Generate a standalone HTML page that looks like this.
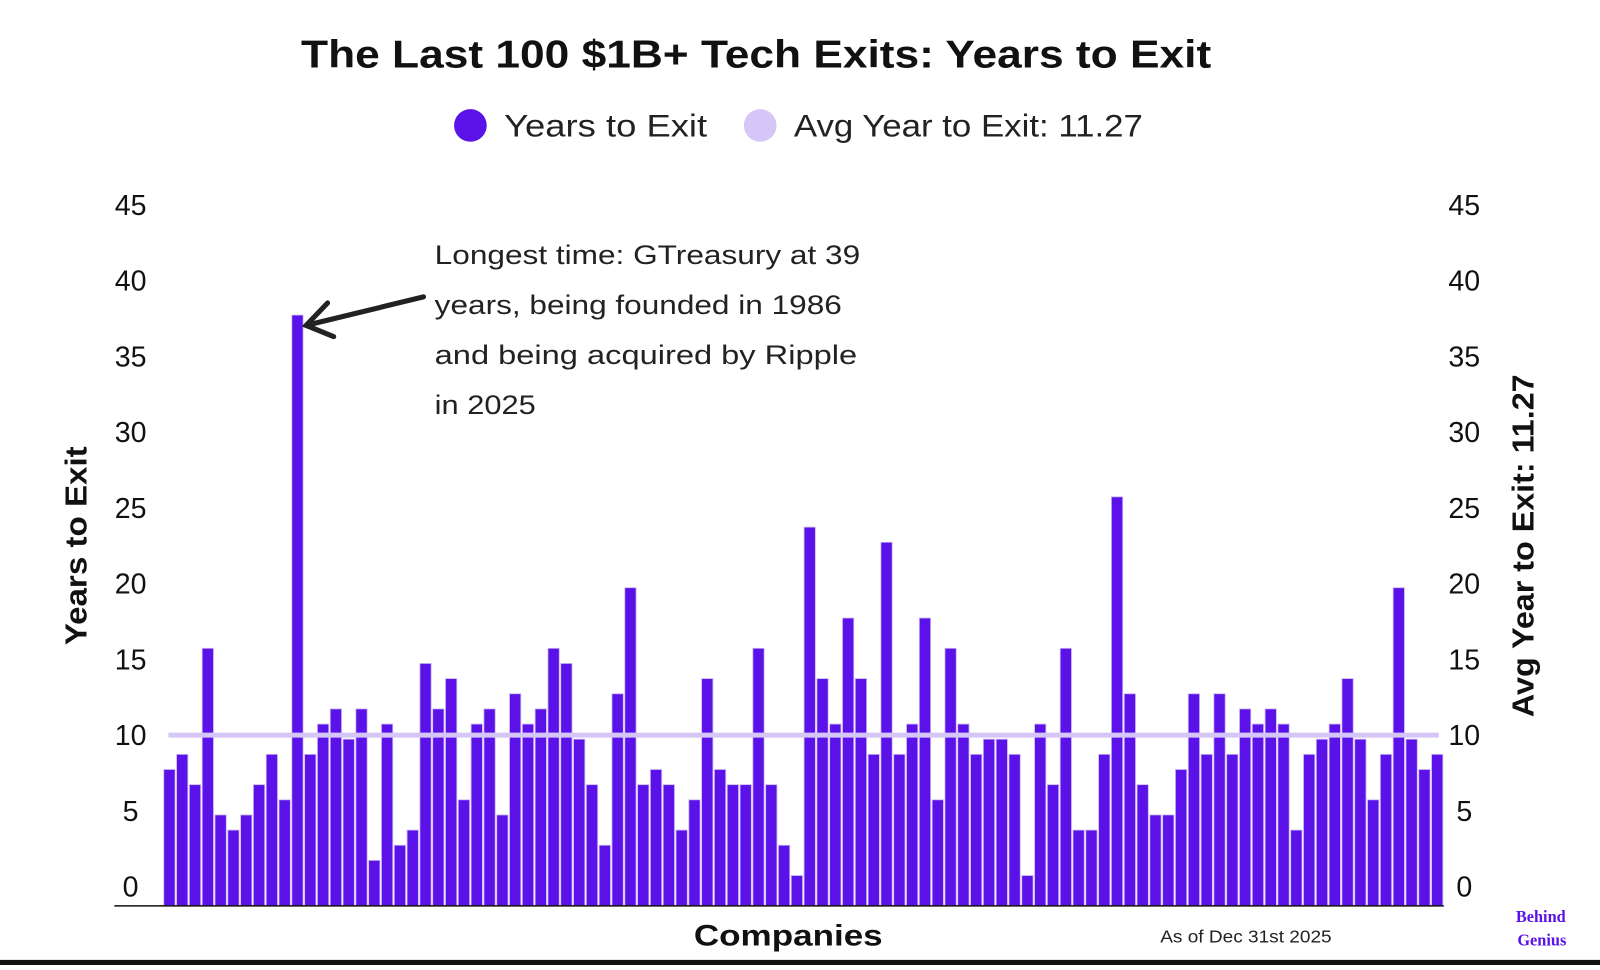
<!DOCTYPE html>
<html><head><meta charset="utf-8"><style>
body{margin:0;background:#fff;width:1600px;height:965px;overflow:hidden;font-family:"Liberation Sans",sans-serif}
svg text{font-family:"Liberation Sans",sans-serif}
</style></head><body>
<svg id="chart" width="1600" height="965" viewBox="0 0 1568 946" preserveAspectRatio="none">
<rect x="0" y="941" width="1568" height="10" fill="#111"/>
<text x="295" y="66" textLength="892" lengthAdjust="spacingAndGlyphs" font-size="38" font-weight="bold" fill="#111">The Last 100 $1B+ Tech Exits: Years to Exit</text>
<g>
<circle cx="461" cy="123" r="16" fill="#5a12e8"/>
<text x="494" y="134" textLength="199" lengthAdjust="spacingAndGlyphs" font-size="31" fill="#222">Years to Exit</text>
<circle cx="745" cy="123" r="16" fill="#d6c6f7"/>
<text x="778" y="134" textLength="342" lengthAdjust="spacingAndGlyphs" font-size="31" fill="#222">Avg Year to Exit: 11.27</text>
</g>
<g id="bars"></g>
<g id="ticks"></g>
<line x1="112" y1="888" x2="1415" y2="888" stroke="#111" stroke-width="1.5"/>
<text transform="translate(85,535) rotate(-90)" text-anchor="middle" textLength="195" lengthAdjust="spacingAndGlyphs" font-size="30" font-weight="bold" fill="#111">Years to Exit</text>
<text transform="translate(1503,535) rotate(-90)" text-anchor="middle" textLength="336" lengthAdjust="spacingAndGlyphs" font-size="30" font-weight="bold" fill="#111">Avg Year to Exit: 11.27</text>
<text x="680" y="927" textLength="185" lengthAdjust="spacingAndGlyphs" font-size="29" font-weight="bold" fill="#111">Companies</text>
<text x="1137" y="924" textLength="168" lengthAdjust="spacingAndGlyphs" font-size="17" fill="#222">As of Dec 31st 2025</text>
<text x="1510" y="904" text-anchor="middle" font-size="16" font-weight="bold" fill="#5a12e8" style="font-family:'Liberation Serif',serif">Behind</text>
<text x="1511" y="927" text-anchor="middle" font-size="16" font-weight="bold" fill="#5a12e8" style="font-family:'Liberation Serif',serif">Genius</text>
<g font-size="26" fill="#222">
<text x="426" y="259" textLength="417" lengthAdjust="spacingAndGlyphs">Longest time: GTreasury at 39</text>
<text x="426" y="308" textLength="399" lengthAdjust="spacingAndGlyphs">years, being founded in 1986</text>
<text x="426" y="357" textLength="414" lengthAdjust="spacingAndGlyphs">and being acquired by Ripple</text>
<text x="426" y="406" textLength="99" lengthAdjust="spacingAndGlyphs">in 2025</text>
</g>
<g stroke="#222" stroke-width="5" stroke-linecap="round" fill="none">
<path d="M415 291 L300 319"/><path d="M321 297 L300 319 L327 330"/>
</g>
</svg>
<script>
const companies = Array.from({length:100},(_,i)=>'Company '+(i+1));
const years = [9,10,8,17,6,5,6,8,10,7,39,10,12,13,11,13,3,12,4,5,16,13,15,7,12,13,6,14,12,13,17,16,11,8,4,14,21,8,9,8,5,7,15,9,8,8,17,8,4,2,25,15,12,19,15,10,24,10,12,19,7,17,12,10,11,11,10,2,12,8,17,5,5,10,27,14,8,6,6,9,14,10,14,10,13,12,13,12,5,10,11,12,15,11,7,10,21,11,9,10];
const avgValue = [11.27];
const tickValues = [0,5,10,15,20,25,30,35,40,45];
const NS='http://www.w3.org/2000/svg';
const x0=160,x1=1415,yBase=888,pxPer=14.85;
const y=v=>yBase-v*pxPer;
const bw=(x1-x0)/companies.length;
const xs=i=>x0+i*bw;
const bars=document.getElementById('bars');
years.forEach((v,i)=>{
  const r=document.createElementNS(NS,'rect');
  r.setAttribute('x',xs(i)+0.5);r.setAttribute('y',y(v));
  r.setAttribute('width',bw-1.5);r.setAttribute('height',yBase-y(v));
  r.setAttribute('fill','#5a12e8');r.setAttribute('stroke','#c9b6f5');r.setAttribute('stroke-width','0.8');
  
  
  bars.appendChild(r);
});
const al=document.createElementNS(NS,'line');
al.setAttribute('x1',165);al.setAttribute('x2',1410);al.setAttribute('y1',y(avgValue[0]));al.setAttribute('y2',y(avgValue[0]));
al.setAttribute('stroke','#d6c6f7');al.setAttribute('stroke-width','5');


document.getElementById('chart').insertBefore(al,document.getElementById('ticks'));
const tk=document.getElementById('ticks');
tickValues.forEach(v=>{
  [[128,'left'],[1435,'right']].forEach(([cx,side])=>{
    const t=document.createElementNS(NS,'text');
    t.setAttribute('x',cx);t.setAttribute('y',y(v)-9);
    t.setAttribute('text-anchor','middle');t.setAttribute('font-size','28');t.setAttribute('fill','#111');
    t.textContent=v;
    
    
    tk.appendChild(t);
  });
});
</script>
</body></html>
